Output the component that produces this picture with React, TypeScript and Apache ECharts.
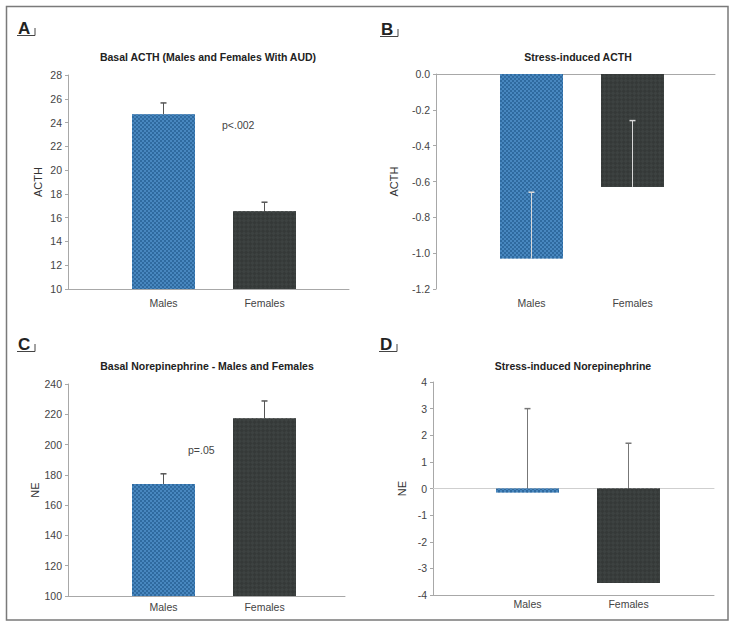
import React, { useEffect, useRef } from 'react';
import * as echarts from 'echarts';

// ---------- data ----------
const categories = ['Males', 'Females'];
const basalActh = [24.7, 16.55];
const basalActhErr = [0.95, 0.75];
const stressActh = [-1.03, -0.63];
const stressActhErr = [0.37, 0.37];
const basalNe = [173.9, 217.4];
const basalNeErr = [6.8, 11.4];
const stressNe = [-0.15, -3.55];
const stressNeErr = [3.15, 5.25];

const FONT = '"Liberation Sans", Arial, Helvetica, sans-serif';

// ---------- layout ----------
const panels = [
  {
    values: basalActh, errs: basalActhErr, yMin: 10, yMax: 28, yInterval: 2, decimals: 0,
    axisLeft: 68, axisRight: 349, top: 75, bottom: 289, barLeft: 113, labelMargin: 8,
    yName: 'ACTH', nameGap: 25, errColor: '#555', errOnTop: true, xLine: 'bottom',
    title: 'Basal ACTH (Males and Females With AUD)', titleX: 208, titleY: 57,
    letter: 'A', letterX: 18, letterY: 20,
    note: 'p<.002', noteX: 222, noteY: 125,
  },
  {
    values: stressActh, errs: stressActhErr, yMin: -1.2, yMax: 0, yInterval: 0.2, decimals: 1,
    axisLeft: 436, axisRight: 715, top: 74, bottom: 289, barLeft: 481, labelMargin: 8,
    yName: 'ACTH', nameGap: 37, errColor: '#d8d8d8', errOnTop: true, xLine: 'zero',
    title: 'Stress-induced ACTH', titleX: 578, titleY: 57,
    letter: 'B', letterX: 381, letterY: 21,
    note: '', noteX: 0, noteY: 0,
  },
  {
    values: basalNe, errs: basalNeErr, yMin: 100, yMax: 240, yInterval: 20, decimals: 0,
    axisLeft: 68, axisRight: 345, top: 384, bottom: 596, barLeft: 113, labelMargin: 5,
    yName: 'NE', nameGap: 25, errColor: '#555', errOnTop: true, xLine: 'bottom',
    title: 'Basal Norepinephrine - Males and Females', titleX: 207, titleY: 366,
    letter: 'C', letterX: 18, letterY: 336,
    note: 'p=.05', noteX: 188, noteY: 450,
  },
  {
    values: stressNe, errs: stressNeErr, yMin: -4, yMax: 4, yInterval: 1, decimals: 0,
    axisLeft: 433, axisRight: 714, top: 382, bottom: 595, barLeft: 477, labelMargin: 3,
    yName: 'NE', nameGap: 26, errColor: '#777', errOnTop: false, xLine: 'both',
    title: 'Stress-induced Norepinephrine', titleX: 573, titleY: 366,
    letter: 'D', letterX: 380, letterY: 336,
    note: '', noteX: 0, noteY: 0,
  },
];

const BAR_GRID_WIDTH = 202;
const BAR_WIDTH = 63;

const maleStyle = {
  color: '#2f6a9f',
  decal: {
    symbol: 'rect',
    symbolSize: 1,
    color: '#4887bf',
    dashArrayX: [[2, 2], [0, 2, 2, 0]],
    dashArrayY: [2, 0],
  },
};
const femaleStyle = {
  color: '#353938',
  decal: {
    symbol: 'rect',
    symbolSize: 1,
    color: '#3d4241',
    dashArrayX: [[3, 3], [0, 3, 3, 0]],
    dashArrayY: [3, 0],
    rotation: Math.PI / 4,
  },
};

function buildOption() {
  const grid: any[] = [];
  const xAxis: any[] = [];
  const yAxis: any[] = [];
  const series: any[] = [];
  const graphic: any[] = [];

  graphic.push({
    type: 'rect',
    shape: { x: 6.5, y: 6.5, width: 721.5, height: 613.5 },
    style: { fill: 'none', stroke: '#7a7a7a', lineWidth: 1.5 },
  });

  panels.forEach((p) => {
    const h = p.bottom - p.top;
    const axesGrid = grid.length;
    grid.push({ left: p.axisLeft, top: p.top, width: p.axisRight - p.axisLeft, height: h });
    const barGrid = grid.length;
    grid.push({ left: p.barLeft, top: p.top, width: BAR_GRID_WIDTH, height: h });

    yAxis.push({
      type: 'value', gridIndex: axesGrid, min: p.yMin, max: p.yMax, interval: p.yInterval,
      axisLine: { show: true, lineStyle: { color: '#a8a8a8', width: 1 } },
      axisTick: { show: true, length: 3, lineStyle: { color: '#a8a8a8' } },
      splitLine: { show: false },
      axisLabel: {
        margin: 6, fontSize: 10.5, color: '#444', fontFamily: FONT,
        formatter: (v: number) => v.toFixed(p.decimals),
      },
      name: p.yName, nameLocation: 'middle', nameGap: p.nameGap,
      nameTextStyle: { fontSize: 11, color: '#333', fontFamily: FONT },
    });
    const baseX = {
      type: 'value', gridIndex: axesGrid, min: 0, max: 1,
      axisLabel: { show: false }, axisTick: { show: false }, splitLine: { show: false },
    };
    if (p.xLine === 'bottom') {
      xAxis.push({ ...baseX, position: 'bottom', axisLine: { show: true, onZero: false, lineStyle: { color: '#a8a8a8' } } });
    } else if (p.xLine === 'zero') {
      xAxis.push({ ...baseX, position: 'bottom', axisLine: { show: true, onZero: true, lineStyle: { color: '#a8a8a8' } } });
    } else {
      xAxis.push({ ...baseX, position: 'bottom', axisLine: { show: true, onZero: false, lineStyle: { color: '#a8a8a8' } } });
      xAxis.push({ ...baseX, position: 'top', axisLine: { show: true, onZero: true, lineStyle: { color: '#cfcfcf' } } });
    }

    const bx = xAxis.length;
    xAxis.push({
      type: 'category', gridIndex: barGrid, data: categories, position: 'bottom',
      axisLine: { show: false, onZero: false }, axisTick: { show: false },
      axisLabel: { margin: p.labelMargin, fontSize: 10.5, color: '#444', fontFamily: FONT },
    });
    const by = yAxis.length;
    yAxis.push({ type: 'value', gridIndex: barGrid, min: p.yMin, max: p.yMax, show: false, splitLine: { show: false } });

    series.push({
      type: 'bar', xAxisIndex: bx, yAxisIndex: by, barWidth: BAR_WIDTH, z: 2,
      data: p.values.map((v, i) => ({ value: v, itemStyle: i === 0 ? maleStyle : femaleStyle })),
    });

    const errColor = p.errColor;
    series.push({
      type: 'custom', xAxisIndex: bx, yAxisIndex: by, z: p.errOnTop ? 3 : 1,
      encode: { x: 0, y: [1, 2] },
      data: p.values.map((v, i) => [i, v, v + p.errs[i]]),
      renderItem: (params: any, api: any) => {
        const a = api.coord([api.value(0), api.value(1)]);
        const b = api.coord([api.value(0), api.value(2)]);
        return {
          type: 'group',
          children: [
            { type: 'line', shape: { x1: a[0], y1: a[1], x2: a[0], y2: b[1] }, style: { stroke: errColor, lineWidth: 1 } },
            { type: 'line', shape: { x1: a[0] - 3, y1: b[1], x2: a[0] + 3, y2: b[1] }, style: { stroke: errColor, lineWidth: 1.5 } },
          ],
        };
      },
    });

    graphic.push({
      type: 'text', x: p.titleX, y: p.titleY,
      style: { text: p.title, textAlign: 'center', textVerticalAlign: 'middle', font: `bold 10.5px ${FONT}`, fill: '#222' },
    });
    graphic.push({
      type: 'text', x: p.letterX, y: p.letterY,
      style: { text: p.letter, textAlign: 'left', textVerticalAlign: 'top', font: `bold 17px ${FONT}`, fill: '#222' },
    });
    graphic.push({
      type: 'polyline',
      shape: { points: [[p.letterX - 1, p.letterY + 15.5], [p.letterX + 17, p.letterY + 15.5], [p.letterX + 17, p.letterY + 8]] },
      style: { stroke: '#444', lineWidth: 1, fill: 'none' },
    });
    if (p.note) {
      graphic.push({
        type: 'text', x: p.noteX, y: p.noteY,
        style: { text: p.note, textAlign: 'left', textVerticalAlign: 'middle', font: `10.5px ${FONT}`, fill: '#444' },
      });
    }
  });

  return {
    animation: false,
    backgroundColor: '#ffffff',
    textStyle: { fontFamily: FONT },
    grid, xAxis, yAxis, series, graphic,
  };
}

export default function App() {
  const ref = useRef<HTMLDivElement>(null);
  useEffect(() => {
    document.body.style.margin = '0';
    const chart = echarts.init(ref.current!, undefined, { renderer: 'svg' });
    chart.setOption(buildOption() as any);
    return () => chart.dispose();
  }, []);
  return <div ref={ref} style={{ position: 'absolute', left: 0, top: 0, width: 736, height: 628 }} />;
}
